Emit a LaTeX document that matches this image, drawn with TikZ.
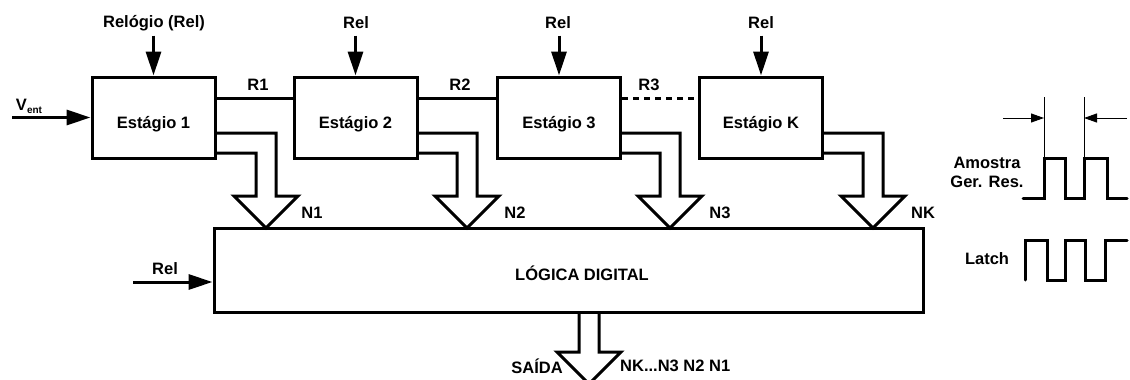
\documentclass[tikz,border=0pt]{standalone}
\usepackage{fontspec}
\setmainfont{Liberation Sans}
\usetikzlibrary{arrows.meta,calc}
\newcommand{\busarrow}[2]{%
  \draw[bus] ([yshift=-15.5pt]#1.east) -- (#2+10,133) -- (#2+10,196) -- (#2+32,196)
    -- (#2,228) -- (#2-32,196) -- (#2-10,196) -- (#2-10,153) -- ([yshift=-35.5pt]#1.east);
}
\begin{document}
\begin{tikzpicture}[x=1pt,y=-1pt,
  every node/.style={font=\fontsize{16.5}{19}\selectfont\bfseries, inner sep=0pt},
  thickline/.style={line width=3pt},
  stagebox/.style={draw, line width=3pt, minimum width=123pt, minimum height=81pt},
  sig/.style={line width=3pt, -{Triangle[length=24pt,width=15pt]}},
  thinline/.style={line width=1pt},
  thinarr/.style={line width=1pt, -{Triangle[length=13pt,width=9pt]}},
  bus/.style={line width=3pt, line join=miter},
  wave/.style={line width=3pt, line cap=round, line join=miter},
  ]
\useasboundingbox (0,0) rectangle (1130,380);

% stages
\node[stagebox] (s1) at (153.5,117.5) {};
\node[stagebox] (s2) at (355.5,117.5) {};
\node[stagebox] (s3) at (559,117.5) {};
\node[stagebox] (sk) at (761,117.5) {};
\node (t1) at ([yshift=-6.5pt]s1.center) {Estágio 1};
\node (t2) at ([yshift=-6.5pt]s2.center) {Estágio 2};
\node (t3) at ([yshift=-6.5pt]s3.center) {Estágio 3};
\node (tk) at ([yshift=-6.5pt]sk.center) {Estágio K};

% clocks
\node (c1) at (154,23) {Relógio (Rel)};
\node (c2) at (356,23) {Rel};
\node (c3) at (558,23) {Rel};
\node (ck) at (761,23) {Rel};
\coordinate (k1) at ([yshift=40pt]s1.north);
\coordinate (k2) at ([yshift=40pt]s2.north);
\coordinate (k3) at ([yshift=40pt]s3.north);
\coordinate (kk) at ([yshift=40pt]sk.north);
\draw[sig] (k1) -- (s1.north);
\draw[sig] (k2) -- (s2.north);
\draw[sig] (k3) -- (s3.north);
\draw[sig] (kk) -- (sk.north);

% residue lines
\draw[thickline] ([yshift=19.5pt]s1.east) -- ([yshift=19.5pt]s2.west);
\draw[thickline] ([yshift=19.5pt]s2.east) -- ([yshift=19.5pt]s3.west);
\draw[thickline, dash pattern=on 6pt off 5pt] ([yshift=19.5pt]s3.east) -- ([yshift=19.5pt]sk.west);
\node (r1) at (258,85) {R1};
\node (r2) at (460,85) {R2};
\node (r3) at (649,85) {R3};

% input
\node (vin) at (29,106) {V{\fontsize{10}{12}\selectfont\raisebox{-3pt}{ent}}};
\coordinate (vinS) at (12,117.5);
\draw[sig] (vinS) -- (s1.west);

% logic
\node[draw, line width=3pt, minimum width=709pt, minimum height=84pt] (logic) at (568.5,270) {};
\node (lt) at (582,273) {LÓGICA DIGITAL};
\node (rl) at (165,269) {Rel};
\coordinate (rlS) at (133,282);
\draw[sig] (rlS) -- (logic.west |- rlS);

% buses
\busarrow{s1}{266}
\busarrow{s2}{467}
\busarrow{s3}{670}
\busarrow{sk}{873}
\node (n1) at (312,213) {N1};
\node (n2) at (515,213) {N2};
\node (n3) at (720,213) {N3};
\node (nk) at (923,213) {NK};

% output bus
\draw[bus] (579,312) -- (579,352) -- (557,352) -- (589,384) -- (621,352) -- (599,352) -- (599,312);
\node[anchor=east] (sai) at (563,366) {SAÍDA};
\node[anchor=west] (outl) at (620,366) {NK...N3 N2 N1};

% timing
\node (am1) at (987,163) {Amostra};
\node (am2) at (987,182) {Ger. Res.};
\node (la) at (987,259) {Latch};
\draw[wave] (1023,198) -- (1044,198) -- (1044,158) -- (1065,158) -- (1065,198) -- (1084,198)
  -- (1084,158) -- (1107,158) -- (1107,198) -- (1127,198);
\draw[thinline] (1044,97) -- (1044,158);
\draw[thinline] (1084,97) -- (1084,158);
\draw[thinarr] (1003,118) -- (1044,118);
\draw[thinarr] (1127,118) -- (1084,118);
\draw[wave] (1025,280) -- (1025,240) -- (1047,240) -- (1047,280) -- (1065,280) -- (1065,240)
  -- (1085,240) -- (1085,280) -- (1105,280) -- (1105,240) -- (1127,240);
\end{tikzpicture}
\end{document}
